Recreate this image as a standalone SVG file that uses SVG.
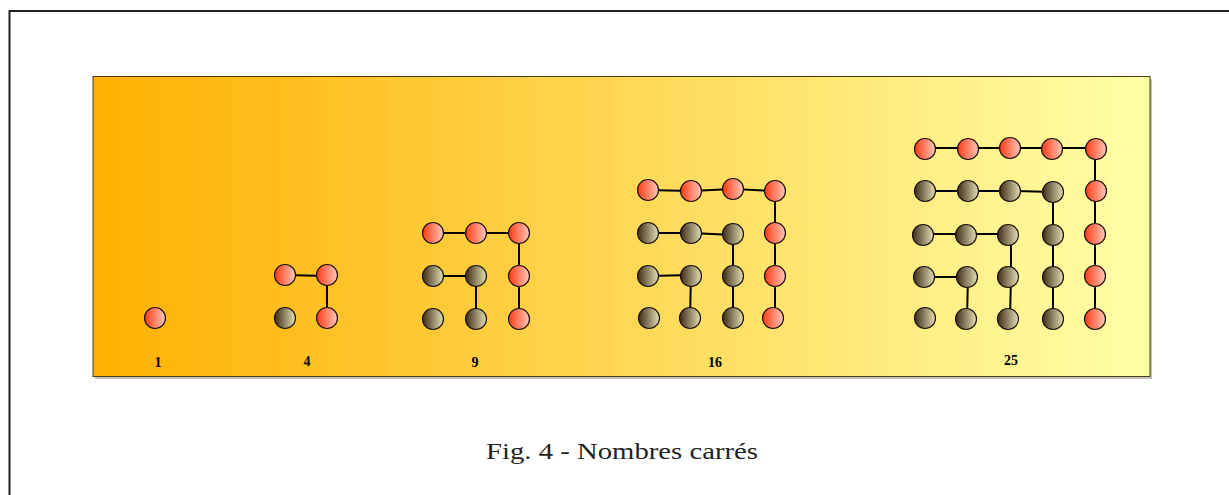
<svg xmlns="http://www.w3.org/2000/svg" width="1229" height="495" viewBox="0 0 1229 495">
<defs>
<linearGradient id="bg" x1="0" y1="0" x2="1" y2="0">
<stop offset="0" stop-color="#FFB000"/>
<stop offset="1" stop-color="#FFFFA8"/>
</linearGradient>
<linearGradient id="gO" x1="0" y1="0" x2="1" y2="0">
<stop offset="0" stop-color="#FF3A14"/>
<stop offset="1" stop-color="#FFC8BA"/>
</linearGradient>
<linearGradient id="gB" x1="0" y1="0" x2="1" y2="0">
<stop offset="0" stop-color="#3E2A18"/>
<stop offset="1" stop-color="#E4E0B4"/>
</linearGradient>
<style>
.o{fill:url(#gO);stroke:#1a1008;stroke-width:1.2}
.b{fill:url(#gB);stroke:#1a1008;stroke-width:1.2}
.e{stroke:#000;stroke-width:2;fill:none}
</style>
</defs>
<rect x="9.5" y="11" width="1240" height="500" fill="#fff" stroke="#222" stroke-width="2"/>
<rect x="95" y="79" width="1057" height="300" fill="#999" opacity="0.6"/>
<rect id="panel" x="93" y="76.5" width="1057" height="300" fill="url(#bg)" stroke="#4a3a10" stroke-width="1"/>
<g id="connectors">
<path class="e" d="M285,275 L327,276 L327,318"/>
<path class="e" d="M433,233 L476,233 L519,233 L519,276 L519,319"/>
<path class="e" d="M433,276 L476,276 L476,319"/>
<path class="e" d="M648,190 L691,191 L733,189 L775,191 L775,233 L775,276 L775,318"/>
<path class="e" d="M648,233 L691,233 L733,235 L733,276 L733,318"/>
<path class="e" d="M648,276 L691,275 L690,318"/>
<path class="e" d="M925,148 L968,148 L1011,148 L1053,148 L1095,148 L1095,191 L1095,234 L1095,277 L1095,318"/>
<path class="e" d="M925,191 L968,191 L1011,191 L1053,192 L1053,234 L1053,277 L1053,318"/>
<path class="e" d="M925,234 L968,234 L1011,234 L1011,277 L1010,318"/>
<path class="e" d="M925,277 L968,277 L967,318"/>
</g>
<g font-family="Liberation Serif, Times New Roman, serif" font-weight="bold" font-size="14" text-anchor="middle" fill="#000">
<g id="n1">
<circle class="o" cx="155" cy="318" r="10.5"/>
<text x="158" y="367">1</text>
</g>
<g id="n4">
<circle class="o" cx="285" cy="275" r="10.5"/>
<circle class="o" cx="327" cy="275" r="10.5"/>
<circle class="b" cx="285" cy="318" r="10.5"/>
<circle class="o" cx="327" cy="318" r="10.5"/>
<text x="307" y="366">4</text>
</g>
<g id="n9">
<circle class="o" cx="433" cy="233" r="10.5"/>
<circle class="o" cx="476" cy="233" r="10.5"/>
<circle class="o" cx="519" cy="233" r="10.5"/>
<circle class="b" cx="433" cy="276" r="10.5"/>
<circle class="b" cx="476" cy="276" r="10.5"/>
<circle class="o" cx="519" cy="276" r="10.5"/>
<circle class="b" cx="433" cy="319" r="10.5"/>
<circle class="b" cx="476" cy="319" r="10.5"/>
<circle class="o" cx="519" cy="319" r="10.5"/>
<text x="475" y="367">9</text>
</g>
<g id="n16">
<circle class="o" cx="648" cy="190" r="10.5"/>
<circle class="o" cx="691" cy="191" r="10.5"/>
<circle class="o" cx="733" cy="189" r="10.5"/>
<circle class="o" cx="775" cy="191" r="10.5"/>
<circle class="b" cx="648" cy="233" r="10.5"/>
<circle class="b" cx="691" cy="233" r="10.5"/>
<circle class="b" cx="733" cy="234" r="10.5"/>
<circle class="o" cx="775" cy="233" r="10.5"/>
<circle class="b" cx="648" cy="276" r="10.5"/>
<circle class="b" cx="691" cy="276" r="10.5"/>
<circle class="b" cx="733" cy="276" r="10.5"/>
<circle class="o" cx="775" cy="276" r="10.5"/>
<circle class="b" cx="649" cy="318" r="10.5"/>
<circle class="b" cx="690" cy="318" r="10.5"/>
<circle class="b" cx="733" cy="318" r="10.5"/>
<circle class="o" cx="773" cy="318" r="10.5"/>
<text x="715" y="367">16</text>
</g>
<g id="n25">
<circle class="o" cx="925" cy="149" r="10.5"/>
<circle class="o" cx="968" cy="149" r="10.5"/>
<circle class="o" cx="1010" cy="148" r="10.5"/>
<circle class="o" cx="1052" cy="149" r="10.5"/>
<circle class="o" cx="1096" cy="149" r="10.5"/>
<circle class="b" cx="925" cy="191" r="10.5"/>
<circle class="b" cx="968" cy="191" r="10.5"/>
<circle class="b" cx="1010" cy="191" r="10.5"/>
<circle class="b" cx="1053" cy="192" r="10.5"/>
<circle class="o" cx="1096" cy="191" r="10.5"/>
<circle class="b" cx="923" cy="235" r="10.5"/>
<circle class="b" cx="966" cy="235" r="10.5"/>
<circle class="b" cx="1008" cy="235" r="10.5"/>
<circle class="b" cx="1053" cy="235" r="10.5"/>
<circle class="o" cx="1095" cy="234" r="10.5"/>
<circle class="b" cx="924" cy="277" r="10.5"/>
<circle class="b" cx="967" cy="277" r="10.5"/>
<circle class="b" cx="1008" cy="277" r="10.5"/>
<circle class="b" cx="1053" cy="277" r="10.5"/>
<circle class="o" cx="1095" cy="276" r="10.5"/>
<circle class="b" cx="925" cy="318" r="10.5"/>
<circle class="b" cx="966" cy="319" r="10.5"/>
<circle class="b" cx="1008" cy="319" r="10.5"/>
<circle class="b" cx="1053" cy="319" r="10.5"/>
<circle class="o" cx="1095" cy="319" r="10.5"/>
<text x="1011" y="365">25</text>
</g>
</g>
<text x="622" y="459" font-family="Liberation Serif, Times New Roman, serif" font-size="24" text-anchor="middle" fill="#222" textLength="272" lengthAdjust="spacingAndGlyphs">Fig. 4 - Nombres carrés</text>
</svg>
